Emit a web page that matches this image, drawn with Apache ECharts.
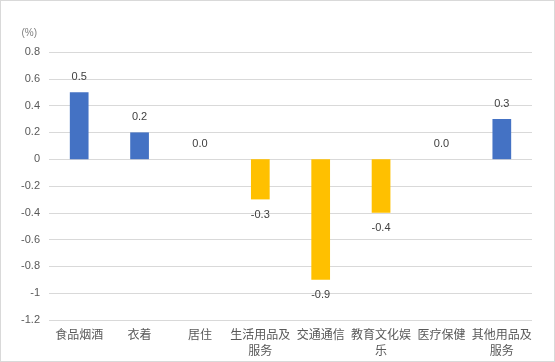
<!DOCTYPE html>
<html><head><meta charset="utf-8">
<script src="https://cdn.jsdelivr.net/npm/echarts@6/dist/echarts.min.js"></script>
<style>html,body{margin:0;padding:0;background:#fff}#c{width:553px;height:360px;border:1px solid #d9d9d9}</style>
</head><body><div id="c"></div>
<script>
var categories = ['食品烟酒','衣着','居住','生活用品及服务','交通通信','教育文化娱乐','医疗保健','其他用品及服务'];
var values = [0.5, 0.2, 0.0, -0.3, -0.9, -0.4, 0.0, 0.3];
var yTicks = {min: -1.2, max: 0.8, interval: 0.2};
var chart = echarts.init(document.getElementById('c'));
chart.setOption({
  animation: false,
  grid: {left: 48, right: 22, top: 51, bottom: 41, containLabel: false},
  xAxis: {
    type: 'category', data: categories, position: 'bottom',
    axisLine: {show: false}, axisTick: {show: false},
    axisLabel: {color: '#595959', fontSize: 12, fontFamily: 'Noto Sans CJK SC', interval: 0, lineHeight: 16,
      margin: 6,
      formatter: function(v){ return v.length > 5 ? v.slice(0,5) + '\n' + v.slice(5) : v; }}
  },
  yAxis: {
    type: 'value', min: yTicks.min, max: yTicks.max, interval: yTicks.interval,
    name: '(%)', nameLocation: 'end', nameGap: 14,
    nameTextStyle: {color: '#7f7f7f', fontSize: 10, align: 'right', padding: [0, 12, 0, 0]},
    axisLine: {show: false}, axisTick: {show: false},
    axisLabel: {color: '#595959', fontSize: 11, margin: 9,
      formatter: function(v){ return String(Math.round(v*10)/10); }},
    splitLine: {lineStyle: {color: '#d9d9d9', width: 1}}
  },
  series: [{
    type: 'bar', barWidth: '31%',
    data: values.map(function(v){
      return {value: v, itemStyle: {color: v < 0 ? '#FFC000' : '#4472C4'},
        label: {position: v < 0 ? 'bottom' : 'top'}};
    }),
    label: {show: true, color: '#404040', fontSize: 11, distance: 10,
      formatter: function(p){ return p.value.toFixed(1); }}
  }]
});
</script></body></html>
